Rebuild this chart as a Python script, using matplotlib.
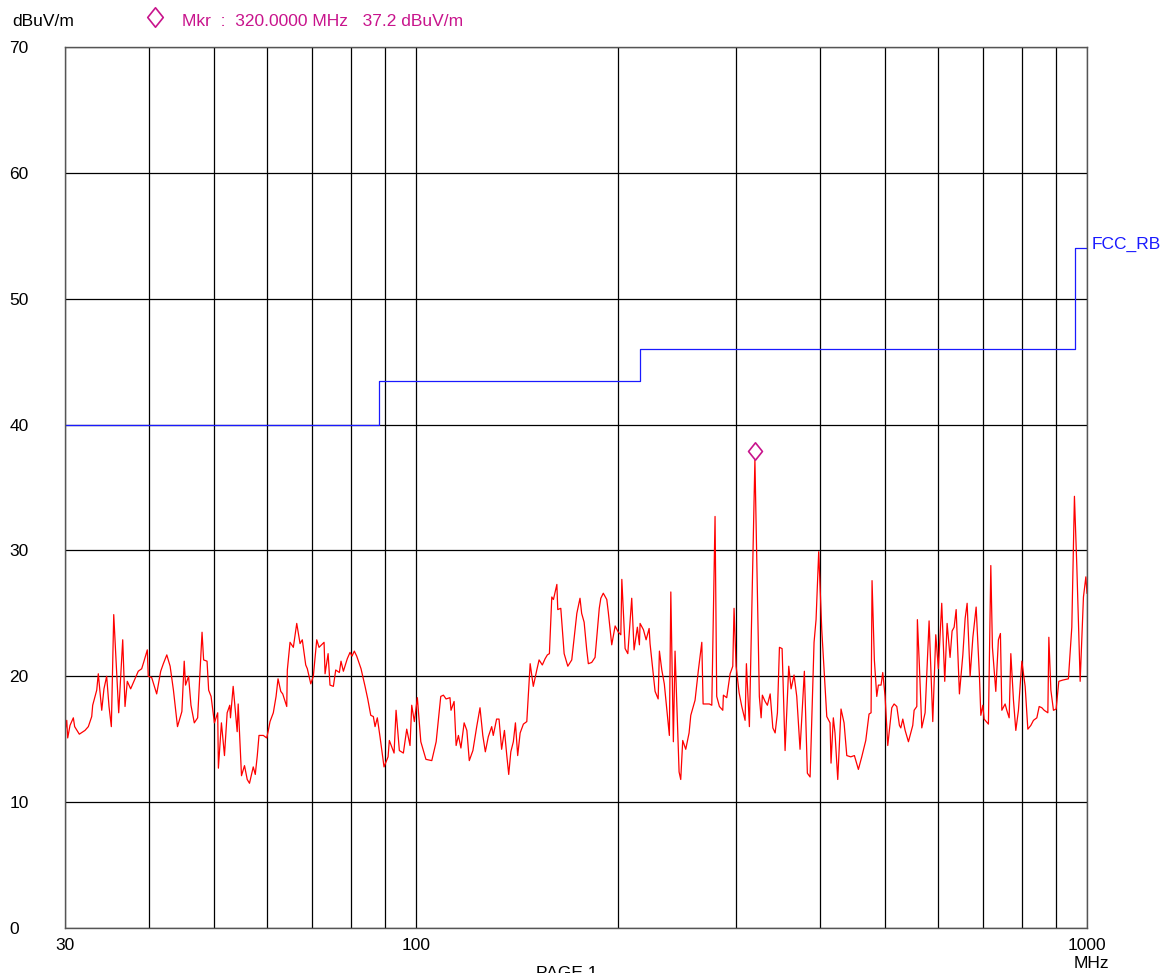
import numpy as np
import matplotlib.pyplot as plt
from matplotlib import transforms
from matplotlib.path import Path

plt.rcParams['font.family'] = ['Liberation Sans', 'DejaVu Sans']

# measured trace (MHz, dBuV/m)
freq = [30.0, 30.18, 30.28, 30.52, 30.87, 31.01, 31.51, 32.13, 32.50, 32.88, 32.99, 33.45, 33.63,
        34.03, 34.29, 34.61, 34.89, 35.17, 35.46, 35.74, 36.07, 36.57, 36.86, 37.15, 37.58, 38.14,
        38.57, 39.03, 39.34, 39.79, 39.92, 40.39, 41.09, 41.66, 42.04, 42.54, 43.03, 43.52, 44.13,
        44.80, 45.16, 45.37, 45.84, 46.22, 46.75, 47.29, 48.01, 48.27, 48.84, 49.11, 49.52, 50.09,
        50.66, 50.78, 51.31, 51.85, 52.33, 52.80, 52.93, 53.42, 54.16, 54.35, 54.97, 55.54, 56.06,
        56.50, 57.23, 57.63,
        58.03, 58.37, 59.24, 59.94, 60.27, 60.62, 61.31, 61.89, 62.31, 62.90, 63.32, 63.76, 64.20,
        64.33, 64.93, 65.67, 66.44, 67.20, 67.72, 68.52, 68.90, 69.72, 70.33, 71.16, 71.72, 72.97,
        73.22, 73.99, 74.47, 75.34, 75.95, 76.90, 77.34, 77.97, 79.03, 79.77, 80.32, 80.95, 81.62,
        82.84, 83.99, 84.77, 85.65, 86.42, 86.92, 87.60, 88.41, 89.64, 90.89, 91.29, 92.78, 93.42,
        94.48, 95.79, 96.90, 98.00, 98.58, 99.47, 100.5, 101.7, 103.5, 105.6, 107.2, 108.9, 109.9,
        110.9, 112.4,
        112.8, 114.0, 114.8, 115.7, 116.7, 118.0, 119.1, 120.1, 121.6, 123.2, 124.6, 125.8, 126.9,
        128.2, 129.7, 130.4, 131.9, 133.0, 134.2, 135.5, 136.6, 137.5, 138.5, 139.7, 140.7, 141.8,
        143.0, 144.6, 146.3, 148.0, 149.6, 151.4, 152.6, 154.3, 155.8, 157.0, 158.1, 159.4, 160.3,
        162.2, 162.7, 164.4, 166.3, 168.4, 170.7, 173.7, 175.6, 176.6, 178.1, 179.7, 180.7, 182.8,
        184.9, 187.6, 188.6, 190.2, 192.5, 193.5, 195.8, 198.1, 200.3, 202.0, 202.7, 205.0, 206.9,
        209.7, 211.4, 213.8, 215.3, 215.8,
        218.3, 220.3, 222.6, 223.3, 225.4, 227.2, 229.6, 230.6, 232.5, 234.5, 235.3, 238.6, 239.8,
        241.9, 243.3, 244.7, 246.7, 248.1, 249.8, 252.4, 255.3, 256.8, 260.6, 263.6, 266.7, 267.9,
        271.9, 273.7, 276.0, 279.1, 280.7, 283.3, 286.6, 287.2, 290.5, 293.9, 296.6, 297.9, 300.0,
        303.1, 305.9, 309.4, 310.8, 314.0, 320.0, 324.9, 326.9, 328.3, 331.4, 334.0, 337.2, 340.3,
        343.0, 345.7, 348.1, 351.3, 354.9, 359.4, 362.3, 366.0, 369.4, 373.6, 379.2, 383.1, 386.7,
        392.0, 394.7, 398.3, 402.5, 409.5, 414.1,
        415.5, 418.8, 421.2, 425.2, 430.0, 434.5, 438.6, 444.6, 450.2, 456.4, 461.7, 468.1, 473.4,
        476.7, 478.3, 482.1, 486.1, 488.8, 493.3, 496.2, 500.2, 504.8, 511.8, 515.9, 520.7, 525.4,
        527.9, 531.5, 535.8, 541.9, 550.0, 552.6, 557.7, 558.8, 562.7, 567.3, 573.8, 581.7, 589.1,
        595.2, 600.5, 607.5, 613.8, 618.8, 625.1, 629.5, 633.9, 638.3, 645.5, 653.1, 658.3, 662.8,
        669.6, 676.0, 683.6, 691.4, 694.7, 699.5, 702.6, 713.0, 718.9, 722.9, 731.3, 737.9, 743.0,
        746.6, 755.1, 759.4, 765.6, 770.0, 777.0, 783.3, 790.4, 799.7, 808.8, 816.3, 824.8, 832.2,
        841.9, 848.7, 856.5, 863.3, 874.3, 877.3, 883.4, 891.3, 899.5, 907.8, 920.4, 938.2, 949.2,
        957.8, 965.6, 976.8, 987.9, 996.1, 1000.0]
level = [15.6, 16.5, 15.1, 16.1, 16.7, 16.0, 15.4, 15.7, 16.0, 16.8, 17.7, 18.9, 20.2,
         17.3, 19.0, 20.0, 17.6, 16.0, 24.9, 21.3, 17.1, 22.9, 17.6, 19.6, 19.0, 19.8,
         20.4, 20.6, 21.2, 22.1, 20.0, 19.9, 18.6, 20.4, 21.0, 21.7, 20.8, 18.9, 16.0,
         17.2, 21.2, 19.3, 20.0, 17.7, 16.3, 16.7, 23.5, 21.3, 21.2, 18.9, 18.4, 16.3,
         17.1, 12.7, 16.3, 13.7, 17.1, 17.7, 16.7, 19.2, 15.6, 17.8, 12.1, 12.9, 11.8,
         11.5, 12.8, 12.2,
         13.7, 15.3, 15.3, 15.1, 15.7, 16.4, 17.1, 18.4, 19.8, 18.8, 18.6, 18.1, 17.6,
         20.5, 22.7, 22.3, 24.2, 22.6, 22.9, 20.9, 20.6, 19.4, 20.0, 22.9, 22.3, 22.7,
         20.2, 21.8, 19.3, 19.2, 20.5, 20.3, 21.2, 20.4, 21.4, 21.9, 21.6, 22.0, 21.6,
         20.6, 19.2, 18.2, 16.9, 16.8, 16.0, 16.7, 15.2, 12.8, 13.6, 14.9, 13.9, 17.3,
         14.1, 13.9, 15.8, 14.5, 17.7, 16.4, 18.3, 14.8, 13.4, 13.3, 14.8, 18.4, 18.5,
         18.2, 18.3,
         17.3, 18.0, 14.5, 15.3, 14.3, 16.3, 15.7, 13.3, 14.1, 16.0, 17.5, 15.3, 14.0,
         15.2, 16.0, 15.3, 16.6, 16.6, 14.2, 15.7, 13.7, 12.2, 14.0, 14.8, 16.3, 13.7,
         15.5, 16.2, 16.4, 21.0, 19.2, 20.5, 21.3, 20.9, 21.4, 21.7, 21.8, 26.3, 26.1,
         27.3, 25.3, 25.4, 21.8, 20.8, 21.3, 25.0, 26.2, 25.0, 24.3, 22.1, 21.0, 21.1,
         21.5, 25.4, 26.2, 26.6, 26.1, 25.1, 22.5, 24.0, 23.5, 23.3, 27.7, 22.2, 21.8,
         26.2, 22.1, 23.9, 22.5, 24.2,
         23.7, 22.9, 23.8, 22.6, 20.5, 18.8, 18.2, 22.0, 20.5, 19.4, 18.6, 15.3, 26.7,
         14.8, 22.0, 18.1, 12.4, 11.8, 14.9, 14.2, 15.5, 16.9, 18.1, 20.5, 22.7, 17.8,
         17.8, 17.8, 17.7, 32.7, 18.4, 17.6, 17.3, 18.5, 18.3, 20.2, 20.8, 25.4, 20.8,
         18.7, 17.6, 16.5, 21.0, 16.0, 37.2, 18.4, 16.7, 18.5, 18.0, 17.7, 18.6, 15.9,
         15.5, 17.1, 22.3, 22.2, 14.1, 20.8, 19.0, 20.1, 18.4, 14.2, 20.4, 12.3, 12.0,
         22.7, 24.5, 29.9, 23.7, 16.8, 16.3,
         13.1, 16.7, 15.5, 11.8, 17.4, 16.3, 13.7, 13.6, 13.7, 12.6, 13.6, 14.9, 17.0,
         17.1, 27.6, 21.3, 18.4, 19.3, 19.3, 20.3, 18.4, 14.5, 17.5, 17.8, 17.6, 16.1,
         15.9, 16.6, 15.7, 14.8, 16.1, 17.3, 17.6, 24.5, 20.8, 15.9, 17.1, 24.4, 16.4,
         23.3, 20.6, 25.8, 19.6, 24.2, 21.5, 23.6, 23.9, 25.3, 18.6, 21.7, 24.6, 25.8,
         20.0, 23.1, 25.5, 20.0, 16.9, 17.7, 16.6, 16.2, 28.8, 22.3, 18.8, 22.9, 23.4,
         17.3, 17.8, 17.3, 16.7, 21.8, 18.1, 15.7, 17.3, 21.2, 19.2, 15.8, 16.1, 16.5,
         16.7, 17.6, 17.5, 17.3, 17.1, 23.1, 18.9, 17.3, 17.4, 19.6, 19.7, 19.8, 23.9,
         34.3, 28.8, 19.6, 26.3, 27.9, 26.6]

# FCC class B limit
limit_f = [30, 88, 88, 216, 216, 960, 960, 1000]
limit_db = [40, 40, 43.5, 43.5, 46, 46, 54, 54]

mkr_f = 320.0
mkr_db = 37.2

W, H = 1171, 973
fig = plt.figure(figsize=(W / 100, H / 100), dpi=100)
ax = fig.add_axes([65 / W, (H - 928) / H, 1022 / W, 881 / H])

ax.plot(freq, level, color='red', lw=0.9)
ax.plot(limit_f, limit_db, color='#1a1aff', lw=0.9)

mag = '#c8148c'
diamond = Path([(0, 1), (0.8, 0), (0, -1), (-0.8, 0), (0, 1)],
               [Path.MOVETO, Path.LINETO, Path.LINETO, Path.LINETO, Path.CLOSEPOLY])
tr = transforms.offset_copy(ax.transData, fig=fig, x=0, y=8.5, units='dots')
ax.plot([mkr_f], [mkr_db], marker=diamond, ms=12.5, mfc='none', mec=mag, mew=1.2,
        transform=tr, clip_on=False)

ax.set_xscale('log')
ax.set_xlim(30, 1000)
ax.set_ylim(0, 70)
ax.set_xticks([30, 100, 1000])
ax.set_xticklabels(['30', '100', '1000'])
ax.set_xticks([40, 50, 60, 70, 80, 90, 200, 300, 400, 500, 600, 700, 800, 900], minor=True)
ax.set_xticklabels([], minor=True)
ax.set_yticks(range(0, 71, 10))
ax.set_yticklabels([str(v) for v in range(0, 71, 10)], ha='left')
ax.tick_params(axis='y', length=0, pad=40, labelsize=12.5)
ax.tick_params(axis='x', which='both', length=0, pad=7, labelsize=12.5)
ax.grid(True, which='both', color='black', lw=0.9)
for s in ax.spines.values():
    s.set_color('#555555')
    s.set_linewidth(1.0)

fig.text(12 / W, 1 - 21 / H, 'dBuV/m', fontsize=12.5, va='center', ha='left')
# header marker symbol
fig.lines.append(plt.Line2D([155 / W], [1 - 17 / H], transform=fig.transFigure,
                            marker=diamond, ms=14, mfc='none', mec=mag, mew=1.2, ls='none'))
fig.text(182 / W, 1 - 21 / H, 'Mkr  :  320.0000 MHz   37.2 dBuV/m', fontsize=12.5,
         va='center', ha='left', color=mag)
fig.text(1092 / W, 1 - 244 / H, 'FCC_RB', fontsize=12.5, va='center', ha='left', color='#1a1aff')
fig.text(1091 / W, 1 - 964 / H, 'MHz', fontsize=12.5, va='center', ha='center')
fig.text(567 / W, 1 - 966 / H, 'PAGE 1', fontsize=12.5, va='top', ha='center')

fig.savefig('out.png', dpi=100)
